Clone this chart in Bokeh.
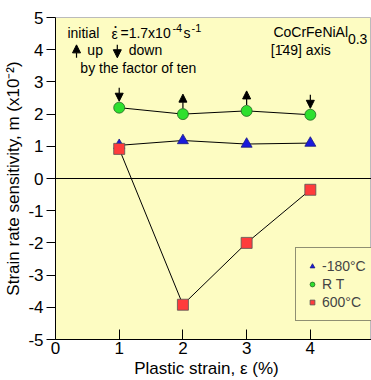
import math
from bokeh.plotting import figure
from bokeh.models import (Label, Span, Arrow, NormalHead, Legend, LegendItem,
                          FixedTicker, Range1d)
from bokeh.embed import file_html
from bokeh.resources import INLINE

# data
strain = [1, 2, 3, 4]
m_m180 = [1.03, 1.18, 1.07, 1.10]
m_rt = [2.20, 2.00, 2.10, 1.98]
m_600 = [0.92, -3.92, -2.00, -0.35]
# strain-rate change direction at each step: -1 = down, +1 = up
rate_change = [-1, 1, 1, -1]
x_ticks = [0, 1, 2, 3, 4]
y_ticks = [-5, -4, -3, -2, -1, 0, 1, 2, 3, 4, 5]

FONT = "Liberation Sans"
BG = "#fdfcc2"

p = figure(width=371, height=380, output_backend="svg", toolbar_location=None,
           x_range=Range1d(0, 4.96), y_range=Range1d(-5, 5),
           min_border_left=55, min_border_top=17, min_border_right=0,
           min_border_bottom=40)
p.background_fill_color = BG
p.border_fill_color = "white"
p.outline_line_color = "#bbbbbb"
p.xgrid.visible = False
p.ygrid.visible = False

for ax in (p.xaxis[0], p.yaxis[0]):
    ax.axis_line_color = "black"
    ax.axis_line_width = 1
    ax.major_tick_line_color = "black"
    ax.minor_tick_line_color = None
    ax.major_label_text_font = FONT
    ax.major_label_text_font_size = "17px"
    ax.major_label_text_color = "black"
    ax.axis_label_text_font = FONT
    ax.axis_label_text_font_size = "17px"
    ax.axis_label_text_font_style = "normal"
    ax.axis_label_text_color = "black"

p.xaxis.ticker = FixedTicker(ticks=x_ticks)
p.xaxis.major_label_overrides = {t: str(t) for t in x_ticks}
p.xaxis.major_tick_in = 10
p.xaxis.major_tick_out = 0
p.xaxis.major_label_standoff = 2
p.xaxis.axis_label = "Plastic strain, ε (%)\u00a0\u00a0\u00a0"
p.xaxis.axis_label_standoff = 2

p.yaxis.ticker = FixedTicker(ticks=y_ticks)
p.yaxis.major_label_overrides = {t: str(t) for t in y_ticks}
p.yaxis.major_tick_in = 0
p.yaxis.major_tick_out = 9
p.yaxis.major_label_standoff = 3
p.yaxis.axis_label = "Strain rate sensitivity, m (x10⁻²)"
p.yaxis.axis_label_standoff = 2

p.add_layout(Span(location=0, dimension="width", line_color="black", line_width=1))

# lines
p.line(strain, m_m180, line_color="black", line_width=1)
p.line(strain, m_rt, line_color="black", line_width=1)
p.line(strain, m_600, line_color="black", line_width=1)

r1 = p.scatter(strain, m_m180, marker="triangle", size=11, fill_color="#1a1adc",
               line_color="#1a1a80", line_width=0.8)
r2 = p.scatter(strain, m_rt, marker="circle", size=11, fill_color="#2ee02e",
               line_color="#226622", line_width=0.8)
r3 = p.scatter(strain, m_600, marker="square", size=11, fill_color="#ff3b3b",
               line_color="#555555", line_width=0.8)

legend = Legend(items=[LegendItem(label="-180°C", renderers=[r1]),
                       LegendItem(label="R T", renderers=[r2]),
                       LegendItem(label="600°C", renderers=[r3])],
                location=(240, 18))
legend.background_fill_color = BG
legend.background_fill_alpha = 1
legend.border_line_color = "#222222"
legend.border_line_width = 1.5
legend.label_text_font = FONT
legend.label_text_font_size = "14px"
legend.label_height = 14
legend.glyph_height = 14
legend.glyph_width = 12
legend.spacing = 2
legend.padding = 10
legend.label_standoff = 4
legend.margin = 0
p.add_layout(legend)

# arrows above RT points
for xs, ys, d in zip(strain, m_rt, rate_change):
    if d < 0:
        y0, y1 = ys + 0.62, ys + 0.2
    else:
        y0, y1 = ys + 0.18, ys + 0.62
    p.add_layout(Arrow(end=NormalHead(size=8, fill_color="black", line_color="black"),
                       x_start=xs, y_start=y0, x_end=xs, y_end=y1,
                       line_color="black", line_width=1.2))

# key arrows
p.add_layout(Arrow(end=NormalHead(size=8, fill_color="black", line_color="black"),
                   x_start=0.33, y_start=3.75, x_end=0.33, y_end=4.15,
                   line_color="black", line_width=1.2))
p.add_layout(Arrow(end=NormalHead(size=8, fill_color="black", line_color="black"),
                   x_start=0.97, y_start=4.15, x_end=0.97, y_end=3.75,
                   line_color="black", line_width=1.2))

def lab(x, y, text, size="14px", style="normal", font=FONT, angle=0,
        align="left", baseline="middle"):
    p.add_layout(Label(x=x, y=y, text=text, text_font=font,
                       text_font_size=size, text_font_style=style,
                       text_color="black", angle=angle, text_align=align,
                       text_baseline=baseline))

lab(0.188, 4.52, "initial")
lab(0.88, 4.50, "ε")
lab(0.94, 4.73, "•", size="7px", align="center")
lab(1.02, 4.52, "=1.7x10")
lab(1.835, 4.66, "-4", size="11px")
lab(2.01, 4.52, "s")
lab(2.135, 4.66, "-1", size="11px")
lab(0.50, 4.00, "up")
lab(1.15, 3.98, "down")
lab(0.39, 3.44, "by the factor of ten")
lab(3.42, 4.55, "CoCrFeNiAl")
lab(4.59, 4.33, "0.3")
lab(3.38, 3.98, "[1̄49] axis")

open("out.html", "w").write(file_html(p, INLINE))
